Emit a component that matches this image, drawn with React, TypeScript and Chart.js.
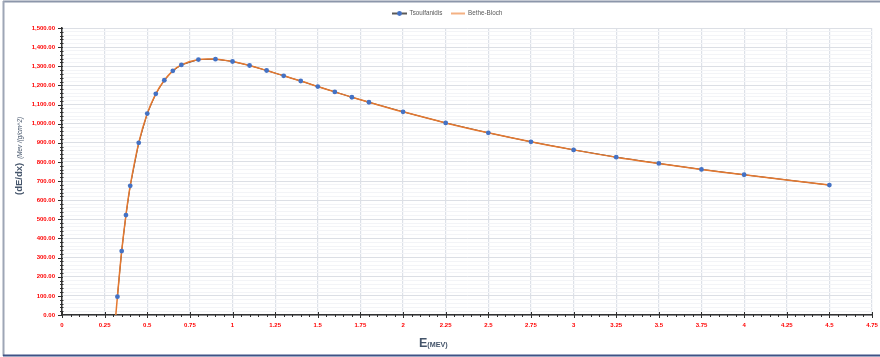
import React, { useEffect, useRef } from "react";
import { Chart, registerables } from "chart.js";

Chart.register(...registerables);

// Energy (MeV) and stopping power dE/dx (MeV/(g/cm^2))
const energyMeV = [
  0.325, 0.35, 0.375, 0.4, 0.45, 0.5, 0.55, 0.6, 0.65, 0.7, 0.8, 0.9, 1.0, 1.1,
  1.2, 1.3, 1.4, 1.5, 1.6, 1.7, 1.8, 2.0, 2.25, 2.5, 2.75, 3.0, 3.25, 3.5,
  3.75, 4.0, 4.5,
];
const tsoulfanidis = [
  96, 334, 522, 675, 900, 1053, 1156, 1227, 1276, 1307, 1335, 1337, 1325, 1304,
  1278, 1250, 1223, 1194, 1166, 1138, 1112, 1062, 1004, 952, 905, 863, 825,
  792, 761, 733, 679,
];

const betheEnergyMeV = [
  0.3, 0.325, 0.35, 0.375, 0.4, 0.45, 0.5, 0.55, 0.6, 0.65, 0.7, 0.8, 0.9, 1.0,
  1.1, 1.2, 1.3, 1.4, 1.5, 1.6, 1.7, 1.8, 2.0, 2.25, 2.5, 2.75, 3.0, 3.25, 3.5,
  3.75, 4.0, 4.5,
];
const betheBloch = [
  -160, 96, 334, 522, 675, 900, 1053, 1156, 1227, 1276, 1307, 1335, 1337, 1325,
  1304, 1278, 1250, 1223, 1194, 1166, 1138, 1112, 1062, 1004, 952, 905, 863,
  825, 792, 761, 733, 679,
];

const seriesNames = ["Tsoulfanidis", "Bethe-Bloch"];
const yTitle = "(dE/dx)";
const yUnit = "(Mev /(g/cm^2)";
const xTitle = "E";
const xUnit = "(MEV)";

const FONT = "'Liberation Sans', Arial, sans-serif";
const TITLE_COLOR = "#44546a";
const MARKER_BLUE = "#4472c4";
const ORANGE = "#e5782f";

const toPoints = (xs: number[], ys: number[]) =>
  xs.map((x, i) => ({ x, y: ys[i] }));

const decorPlugin = {
  id: "decor",
  beforeDraw(chart: any) {
    const ctx = chart.ctx as CanvasRenderingContext2D;
    const { width, height } = chart;
    ctx.save();
    ctx.fillStyle = "#ffffff";
    ctx.fillRect(0, 0, width, height);
    // frame
    ctx.lineWidth = 2;
    ctx.strokeStyle = "#8c96aa";
    ctx.beginPath();
    ctx.moveTo(3, 1.5);
    ctx.lineTo(width, 1.5);
    ctx.stroke();
    ctx.strokeStyle = "#9ea6b6";
    ctx.beginPath();
    ctx.moveTo(3.5, 1);
    ctx.lineTo(3.5, 356);
    ctx.stroke();
    ctx.strokeStyle = "#3f5286";
    ctx.beginPath();
    ctx.moveTo(3, 355.5);
    ctx.lineTo(width, 355.5);
    ctx.stroke();
    ctx.restore();
  },
  afterDraw(chart: any) {
    const ctx = chart.ctx as CanvasRenderingContext2D;
    const xs = chart.scales.x;
    const ys = chart.scales.y;
    const area = chart.chartArea;
    ctx.save();

    // axis tick marks
    ctx.strokeStyle = "#303030";
    ctx.lineWidth = 1;
    for (let i = 0; i <= 95; i++) {
      const px = Math.round(xs.getPixelForValue(i * 0.05)) + 0.5;
      const major = i % 5 === 0;
      ctx.beginPath();
      ctx.moveTo(px, area.bottom - (major ? 3 : 1));
      ctx.lineTo(px, area.bottom + (major ? 3 : 2));
      ctx.stroke();
    }
    for (let i = 0; i <= 75; i++) {
      const py = Math.round(ys.getPixelForValue(i * 20)) + 0.5;
      const major = i % 5 === 0;
      ctx.beginPath();
      ctx.moveTo(area.left - (major ? 4 : 2), py);
      ctx.lineTo(area.left + (major ? 1 : 1.5), py);
      ctx.stroke();
    }

    // legend
    const ly = 13.5;
    ctx.lineWidth = 2;
    ctx.strokeStyle = "#595959";
    ctx.beginPath();
    ctx.moveTo(392, ly);
    ctx.lineTo(407, ly);
    ctx.stroke();
    ctx.fillStyle = MARKER_BLUE;
    ctx.beginPath();
    ctx.arc(399.5, ly, 2.4, 0, Math.PI * 2);
    ctx.fill();
    ctx.strokeStyle = "#f4b183";
    ctx.beginPath();
    ctx.moveTo(451, ly);
    ctx.lineTo(465, ly);
    ctx.stroke();
    ctx.fillStyle = "#595959";
    ctx.font = `6.3px ${FONT}`;
    ctx.textBaseline = "middle";
    ctx.textAlign = "left";
    ctx.fillText(seriesNames[0], 409.5, ly);
    ctx.fillText(seriesNames[1], 468, ly);

    // y axis title
    ctx.save();
    ctx.translate(22, 195);
    ctx.rotate(-Math.PI / 2);
    ctx.fillStyle = TITLE_COLOR;
    ctx.textBaseline = "alphabetic";
    ctx.font = `bold 9.5px ${FONT}`;
    ctx.fillText(yTitle, 0, 0);
    const w = ctx.measureText(yTitle).width;
    ctx.font = `italic 6.3px ${FONT}`;
    ctx.fillText(yUnit, w + 4, 0);
    ctx.restore();

    // x axis title
    ctx.fillStyle = TITLE_COLOR;
    ctx.textBaseline = "alphabetic";
    ctx.font = `bold 12.5px ${FONT}`;
    ctx.fillText(xTitle, 419, 346.5);
    const ew = ctx.measureText(xTitle).width;
    ctx.font = `bold 7.2px ${FONT}`;
    ctx.fillText(xUnit, 419 + ew, 346.5);

    ctx.restore();
  },
};

export default function App() {
  const canvasRef = useRef<HTMLCanvasElement | null>(null);

  useEffect(() => {
    const canvas = canvasRef.current;
    if (!canvas) return;
    const tsPoints = toPoints(energyMeV, tsoulfanidis);
    const chart = new Chart(canvas, {
      type: "line",
      data: {
        datasets: [
          {
            label: seriesNames[0],
            data: tsPoints,
            borderColor: "#3a3a3a",
            borderWidth: 1,
            pointRadius: 0,
            tension: 0,
            order: 3,
          },
          {
            label: seriesNames[1],
            data: toPoints(betheEnergyMeV, betheBloch),
            borderColor: ORANGE,
            borderWidth: 1.5,
            pointRadius: 0,
            tension: 0.4,
            order: 2,
          },
          {
            label: seriesNames[0] + " markers",
            data: tsPoints,
            showLine: false,
            pointRadius: 2.4,
            pointBackgroundColor: MARKER_BLUE,
            pointBorderColor: MARKER_BLUE,
            pointBorderWidth: 0,
            order: 1,
          },
        ],
      },
      options: {
        responsive: false,
        animation: false,
        devicePixelRatio: 1,
        layout: { padding: { top: 28, right: 8, left: 0, bottom: 0 } },
        plugins: {
          legend: { display: false },
          tooltip: { enabled: false },
          title: { display: false },
        },
        scales: {
          x: {
            type: "linear",
            min: 0,
            max: 4.75,
            afterFit: (s: any) => {
              s.height = 42;
              s.paddingLeft = 0;
              s.paddingRight = 0;
            },
            ticks: {
              stepSize: 0.25,
              autoSkip: false,
              maxRotation: 0,
              padding: 6.5,
              color: "#ff0000",
              font: { family: FONT, size: 6, weight: "bold" },
              callback: (v: any) => String(Number(Number(v).toFixed(2))),
            },
            grid: { drawTicks: false, color: "#dde1e8", lineWidth: 1.2 },
            border: { display: true, color: "#333333", width: 1.5 },
          },
          y: {
            min: 0,
            max: 1500,
            afterFit: (s: any) => {
              s.width = 62;
              s.paddingTop = 0;
              s.paddingBottom = 0;
            },
            ticks: {
              stepSize: 20,
              autoSkip: false,
              padding: 7,
              color: "#ff0000",
              font: { family: FONT, size: 6, weight: "bold" },
              callback: (v: any) =>
                Number(v) % 100 === 0
                  ? Number(v).toLocaleString("en-US", {
                      minimumFractionDigits: 2,
                      maximumFractionDigits: 2,
                    })
                  : "",
            },
            grid: {
              drawTicks: false,
              lineWidth: 1,
              color: (c: any) =>
                c.tick && c.tick.value % 100 === 0 ? "#dcdfe5" : "#f3f4f7",
            },
            border: { display: true, color: "#333333", width: 1.5 },
          },
        },
      },
      plugins: [decorPlugin],
    });
    return () => chart.destroy();
  }, []);

  return (
    <div
      style={{
        position: "absolute",
        left: 0,
        top: 0,
        width: 880,
        height: 357,
        background: "#ffffff",
      }}
    >
      <canvas
        ref={canvasRef}
        width={880}
        height={357}
        style={{ width: 880, height: 357, display: "block" }}
      />
    </div>
  );
}
